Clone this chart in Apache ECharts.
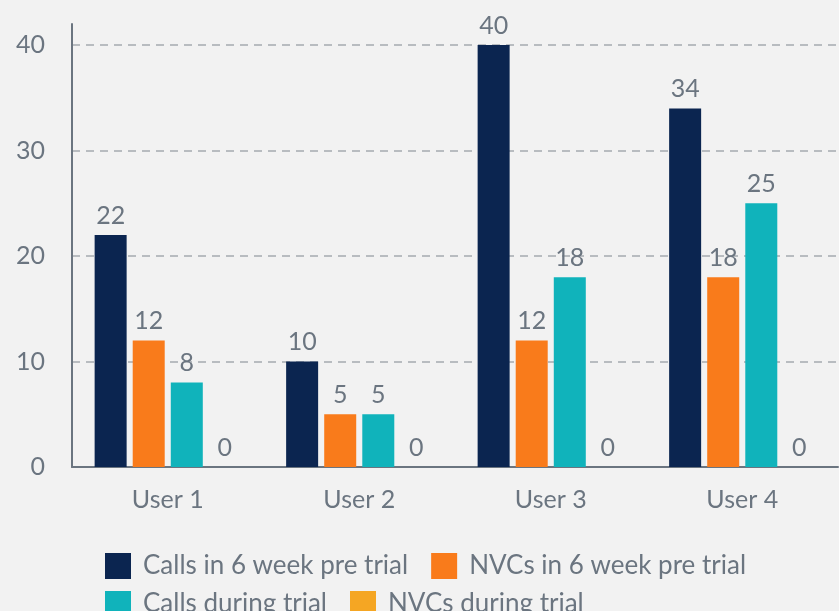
<!DOCTYPE html>
<html>
<head>
<meta charset="utf-8">
<style>
  html, body { margin: 0; padding: 0; background: #f2f2f2; }
  #chart { width: 839px; height: 611px; }
</style>
<script src="https://cdn.jsdelivr.net/npm/echarts@6/dist/echarts.min.js"></script>
</head>
<body>
<div id="chart"></div>
<script>
var categories = ['User 1', 'User 2', 'User 3', 'User 4'];
var seriesNames = ['Calls in 6 week pre trial', 'NVCs in 6 week pre trial', 'Calls during trial', 'NVCs during trial'];
var callsPre = [22, 10, 40, 34];
var nvcsPre = [12, 5, 12, 18];
var callsTrial = [8, 5, 18, 25];
var nvcsTrial = [0, 0, 0, 0];
var colors = ['#0b2550', '#f97b1b', '#10b3bb', '#f5a623'];

var chart = echarts.init(document.getElementById('chart'));
var textColor = '#6b7580';

function makeSeries(name, data, color) {
    return {
        name: name,
        type: 'bar',
        data: data,
        barWidth: 32,
        barGap: '19%',
        itemStyle: { color: color },
        label: {
            show: true,
            position: 'top',
            distance: 7,
            color: textColor,
            fontFamily: 'Lato',
            fontSize: 25
        }
    };
}

// legend is split in two rows by hand so the row gap and item gap can differ
function makeLegend(names, top) {
    return {
        left: 100,
        top: top,
        itemWidth: 26,
        itemHeight: 26,
        itemGap: 23,
        icon: 'rect',
        textStyle: {
            color: textColor,
            fontFamily: 'Lato',
            fontSize: 26,
            padding: [0, 0, 0, 7]
        },
        data: names
    };
}

var option = {
    backgroundColor: '#f2f2f2',
    animation: false,
    color: colors,
    grid: { left: 72, right: 1, top: 24, bottom: 144 },
    legend: [
        makeLegend(seriesNames.slice(0, 2), 548),
        makeLegend(seriesNames.slice(2, 4), 586)
    ],
    xAxis: {
        type: 'category',
        data: categories,
        axisLine: { lineStyle: { color: textColor, width: 2 } },
        axisTick: { show: false },
        axisLabel: { color: textColor, fontFamily: 'Lato', fontSize: 25, margin: 20 }
    },
    yAxis: {
        type: 'value',
        min: 0,
        max: 42,
        interval: 10,
        axisLine: { show: true, lineStyle: { color: textColor, width: 2 } },
        axisTick: { show: false },
        axisLabel: { color: textColor, fontFamily: 'Lato', fontSize: 25, margin: 27, showMaxLabel: false },
        splitLine: {
            showMinLine: false,
            showMaxLine: false,
            lineStyle: { color: '#b8bcc0', type: [8, 6], width: 2 }
        }
    },
    series: [
        makeSeries(seriesNames[0], callsPre, colors[0]),
        makeSeries(seriesNames[1], nvcsPre, colors[1]),
        makeSeries(seriesNames[2], callsTrial, colors[2]),
        makeSeries(seriesNames[3], nvcsTrial, colors[3])
    ]
};

chart.setOption(option);
</script>
</body>
</html>
